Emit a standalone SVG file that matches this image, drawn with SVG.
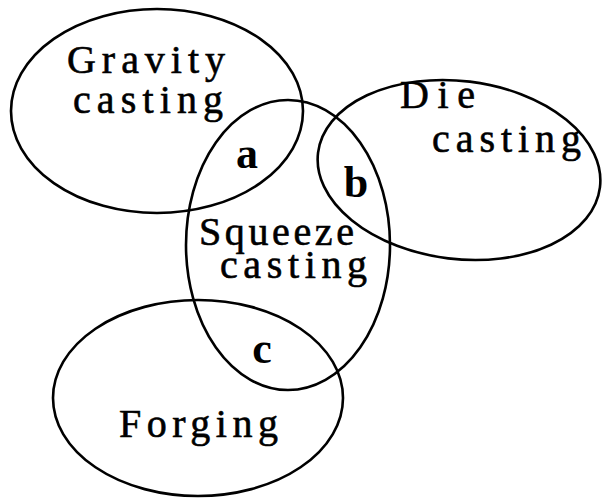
<svg xmlns="http://www.w3.org/2000/svg" width="602" height="502" viewBox="0 0 602 502">
<style>
.set{fill:none;stroke:#000;stroke-width:2.6}
.lbl{font-family:"Liberation Serif","DejaVu Serif",serif;font-size:40px;fill:#000;stroke:#000;stroke-width:0.6}
.reg{font-family:"Liberation Serif","DejaVu Serif",serif;font-size:44px;font-weight:bold;fill:#000;text-anchor:middle}
</style>
<rect width="602" height="502" fill="#fff"/>
<g id="gravity">
<ellipse class="set" cx="157" cy="111" rx="146" ry="102"/>
<text class="lbl"><tspan x="67" y="73" textLength="158" lengthAdjust="spacing">Gravity</tspan><tspan x="73" y="113" textLength="150" lengthAdjust="spacing">casting</tspan></text>
</g>
<g id="die">
<ellipse class="set" cx="459" cy="170" rx="142" ry="89" transform="rotate(7 459 170)"/>
<text class="lbl"><tspan x="400" y="108" textLength="75" lengthAdjust="spacing">Die</tspan><tspan x="432" y="152" textLength="149" lengthAdjust="spacing">casting</tspan></text>
</g>
<g id="squeeze">
<ellipse class="set" cx="288" cy="245" rx="102" ry="145"/>
<text class="lbl"><tspan x="199" y="245" textLength="155" lengthAdjust="spacing">Squeeze</tspan><tspan x="220" y="278" textLength="147" lengthAdjust="spacing">casting</tspan></text>
</g>
<g id="forging">
<ellipse class="set" cx="198" cy="398" rx="145" ry="98"/>
<text class="lbl" x="119" y="437" textLength="159" lengthAdjust="spacing">Forging</text>
</g>
<g id="regions">
<text class="reg" x="247" y="168">a</text>
<text class="reg" x="356" y="197">b</text>
<text class="reg" x="262" y="363">c</text>
</g>
</svg>
